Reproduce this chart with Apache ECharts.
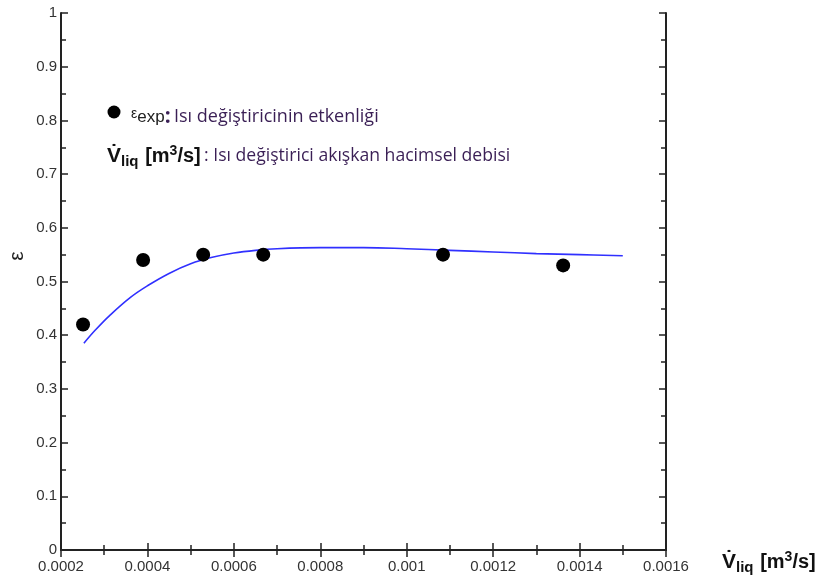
<!DOCTYPE html>
<html>
<head>
<meta charset="utf-8">
<script src="https://cdn.jsdelivr.net/npm/echarts@6/dist/echarts.min.js"></script>
<style>html,body{margin:0;padding:0;background:#fff}#c{width:829px;height:579px}</style>
</head>
<body>
<div id="c"></div>
<script>
// Experimental effectiveness points
const expX = [0.000251, 0.00039, 0.000529, 0.000668, 0.001084, 0.001362];
const expY = [0.42, 0.54, 0.55, 0.55, 0.55, 0.53];
// Model curve
const fitX = [0.000253, 0.00028, 0.000313, 0.00036, 0.0004, 0.00045, 0.0005, 0.00055, 0.0006, 0.00065, 0.0007, 0.0008, 0.0009, 0.001, 0.0011, 0.0012, 0.0013, 0.0014, 0.0015];
const fitY = [0.385, 0.41, 0.437, 0.47, 0.492, 0.515, 0.533, 0.545, 0.553, 0.558, 0.561, 0.563, 0.563, 0.561, 0.558, 0.555, 0.552, 0.550, 0.548];
// Axis ranges
const xMin = 0.0002, xMax = 0.0016, xStep = 0.0002;
const yMin = 0, yMax = 1, yStep = 0.1;

const chart = echarts.init(document.getElementById('c'), null, {renderer: 'canvas'});
const axisLine = {show: true, lineStyle: {color: '#222', width: 2}};
const arial = 'Liberation Sans, Arial, sans-serif';
const lblFont = {fontFamily: arial, fontSize: 15, color: '#333'};
const purple = '#3a1f55';
const txtFont = 'Open Sans, Noto Sans, sans-serif';

function fmtX(v){ return (+v.toFixed(4)).toString(); }
function fmtY(v){ return (+v.toFixed(1)).toString(); }

function axisCommon(extra){
  return Object.assign({
    type: 'value', axisLine: axisLine, splitLine: {show: false},
    axisTick: {show: true, inside: true, length: 7, lineStyle: {color: '#222', width: 1.5}},
    minorTick: {show: true, splitNumber: 2, length: 5, lineStyle: {color: '#222', width: 1.5}}
  }, extra);
}

const vRich = {
  v: {fontSize: 21, fontWeight: 'bold', fontFamily: arial, fill: '#111'},
  s: {fontSize: 15, fontWeight: 'bold', fontFamily: arial, fill: '#111', padding: [12, 0, 0, 0]},
  b: {fontSize: 20, fontWeight: 'bold', fontFamily: arial, fill: '#111'},
  p: {fontSize: 14, fontWeight: 'bold', fontFamily: arial, fill: '#111', padding: [0, 0, 10, 0]}
};

chart.setOption({
  animation: false,
  backgroundColor: '#fff',
  grid: {left: 61, right: 163, top: 13, bottom: 29},
  xAxis: [
    axisCommon({min: xMin, max: xMax, interval: xStep, position: 'bottom',
     axisLabel: Object.assign({margin: 9, formatter: fmtX}, lblFont)}),
    axisCommon({min: xMin, max: xMax, interval: xStep, position: 'top', axisLabel: {show: false}})
  ],
  yAxis: [
    axisCommon({min: yMin, max: yMax, interval: yStep, position: 'left',
     axisLabel: Object.assign({margin: 4, formatter: fmtY}, lblFont)}),
    axisCommon({min: yMin, max: yMax, interval: yStep, position: 'right', axisLabel: {show: false}})
  ],
  series: [
    {type: 'line', data: fitX.map((x, i) => [x, fitY[i]]), smooth: 0.4, showSymbol: false,
     lineStyle: {color: '#3030ff', width: 1.6}, z: 2},
    {type: 'scatter', data: expX.map((x, i) => [x, expY[i]]), symbol: 'circle', symbolSize: 14,
     itemStyle: {color: '#000', opacity: 1}, z: 3}
  ],
  graphic: [
    {type: 'text', x: 17, y: 256, rotation: Math.PI / 2, style: {
      text: 'ε', fontSize: 21, fontFamily: arial, fill: '#222',
      align: 'center', verticalAlign: 'middle'}},
    {type: 'text', x: 722, y: 562, style: {
      text: '{v|V̇}{s|liq}  {b|[m}{p|3}{b|/s]}', verticalAlign: 'middle', rich: vRich}},
    {type: 'circle', shape: {cx: 114, cy: 112, r: 6.5}, style: {fill: '#000'}},
    {type: 'text', x: 131, y: 117, style: {
      text: '{g|ε}{e|exp}{c|:} {t|Isı değiştiricinin etkenliği}', verticalAlign: 'middle',
      rich: {
        g: {fontSize: 14, fontFamily: arial, fill: '#222', padding: [0, 0, 6, 0]},
        e: {fontSize: 17, fontFamily: arial, fill: '#222'},
        c: {fontSize: 21, fontWeight: 'bold', fontFamily: txtFont, fill: purple},
        t: {fontSize: 18, fontFamily: txtFont, fill: purple}
      }}},
    {type: 'text', x: 107, y: 156, style: {
      text: '{v|V̇}{s|liq}  {b|[m}{p|3}{b|/s]} {t|: Isı değiştirici akışkan hacimsel debisi}', verticalAlign: 'middle',
      rich: Object.assign({t: {fontSize: 17.6, fontFamily: txtFont, fill: purple}}, vRich)}}
  ]
});
</script>
</body>
</html>
